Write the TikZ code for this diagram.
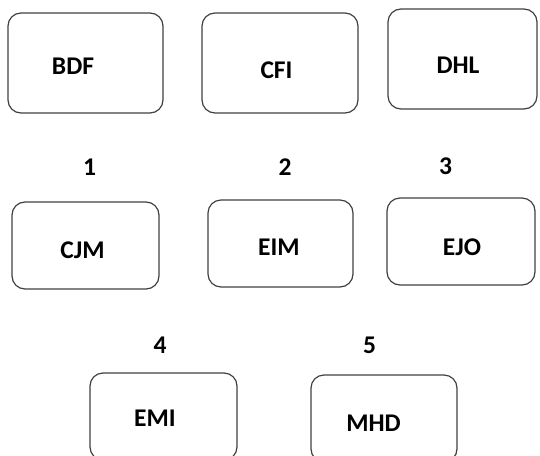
\documentclass[tikz,border=0pt]{standalone}
\usepackage{fontspec}
\setmainfont{Carlito}
\begin{document}
\begin{tikzpicture}[x=1pt,y=-1pt,
  box/.style={draw=black!75, line width=1.2pt, rounded corners=13pt, inner sep=0pt},
  lbl/.style={font=\bfseries\fontsize{25.5}{25.5}\selectfont, inner sep=0pt, text=black}]
\useasboundingbox (0,0) rectangle (540,455);
\clip (0,0) rectangle (540,455);
% boxes
\node[box, minimum width=155pt, minimum height=100pt] (bBDF) at (85.5,63) {};
\node[box, minimum width=156pt, minimum height=100pt] (bCFI) at (280,63) {};
\node[box, minimum width=149pt, minimum height=100pt] (bDHL) at (462.5,59) {};
\node[box, minimum width=147pt, minimum height=87pt] (bCJM) at (85.5,245.5) {};
\node[box, minimum width=145pt, minimum height=87pt] (bEIM) at (280.5,243.5) {};
\node[box, minimum width=148pt, minimum height=87pt] (bEJO) at (461,241.5) {};
\node[box, minimum width=147pt, minimum height=87pt] (bEMI) at (163.5,416.5) {};
\node[box, minimum width=146pt, minimum height=87pt] (bMHD) at (384,418.5) {};
% texts
\node[lbl] (tBDF) at (73,66.5) {BDF};
\node[lbl] (tCFI) at (276.5,70.5) {CFI};
\node[lbl] (tDHL) at (458,65) {DHL};
\node[lbl] (tCJM) at (82.5,250) {CJM};
\node[lbl] (tEIM) at (279,247) {EIM};
\node[lbl] (tEJO) at (462,247) {EJO};
\node[lbl] (tEMI) at (155,418) {EMI};
\node[lbl] (tMHD) at (373.5,423.5) {MHD};
% numbers
\node[lbl] (n1) at (89.5,167.5) {1};
\node[lbl] (n2) at (285,167) {2};
\node[lbl] (n3) at (445.5,166) {3};
\node[lbl] (n4) at (160,345) {4};
\node[lbl] (n5) at (369.5,345) {5};
\end{tikzpicture}
\end{document}
